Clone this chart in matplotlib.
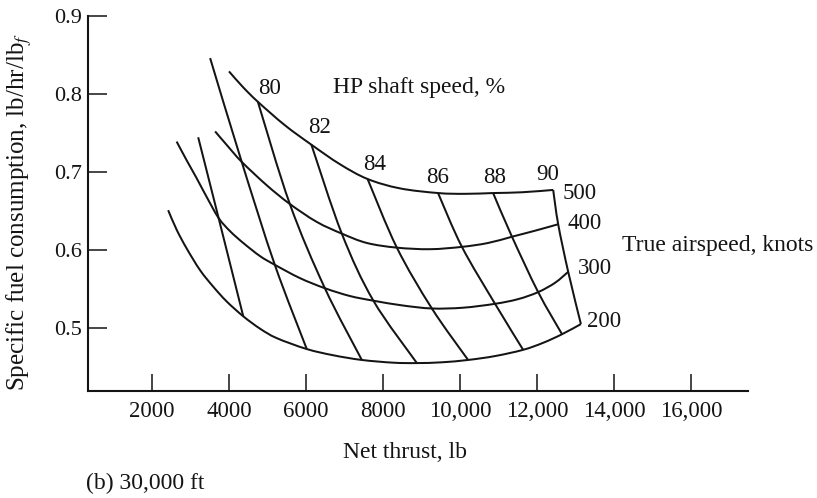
import matplotlib
matplotlib.use("Agg")
import matplotlib.pyplot as plt
from matplotlib.path import Path
from matplotlib.patches import PathPatch

# Constant true-airspeed curves (knots): net thrust (lb) vs SFC (lb/hr/lbf)
airspeeds_kt = [200, 300, 400, 500]

tas200_thrust = [2420, 2640, 2900, 3250, 3590, 3940, 4370, 4810, 5240, 6020, 6710,
                 7450, 8270, 8880, 9530, 10210, 10910, 11640, 12160, 12650, 13140]
tas200_sfc = [0.651, 0.626, 0.602, 0.574, 0.553, 0.534, 0.515, 0.499, 0.487, 0.473, 0.465,
              0.459, 0.4555, 0.455, 0.456, 0.459, 0.464, 0.472, 0.481, 0.492, 0.505]

tas300_thrust = [2640, 2900, 3160, 3420, 3730, 4030, 4370, 4810, 5190, 5840, 6490,
                 7140, 7750, 8490, 9270, 10080, 10910, 11510, 12030, 12470, 12810]
tas300_sfc = [0.739, 0.715, 0.692, 0.668, 0.641, 0.624, 0.609, 0.592, 0.581, 0.564, 0.551,
              0.541, 0.535, 0.529, 0.525, 0.526, 0.531, 0.537, 0.546, 0.558, 0.572]

tas400_thrust = [3640, 3970, 4330, 4980, 5580, 6280, 6930, 7580, 8360, 9220,
                 10050, 10730, 11350, 11970, 12550]
tas400_sfc = [0.752, 0.733, 0.713, 0.683, 0.659, 0.636, 0.621, 0.609, 0.603, 0.601,
              0.604, 0.609, 0.617, 0.625, 0.633]

tas500_thrust = [4000, 4360, 4750, 5450, 6140, 6880, 7600, 8440, 9430, 10130,
                 10860, 11610, 12420]
tas500_sfc = [0.829, 0.809, 0.790, 0.760, 0.735, 0.710, 0.691, 0.679, 0.673, 0.672,
              0.673, 0.674, 0.677]

# Constant HP shaft speed lines (%), top to bottom
hp_speeds_pct = [76, 78, 80, 82, 84, 86, 88, 90]
hp76_thrust = [3200, 3730, 4370]
hp76_sfc = [0.7445, 0.641, 0.515]
hp78_thrust = [3510, 4330, 5190, 6020]
hp78_sfc = [0.846, 0.713, 0.581, 0.473]
hp80_thrust = [4750, 5580, 6490, 7450]
hp80_sfc = [0.790, 0.659, 0.551, 0.459]
hp82_thrust = [6140, 6930, 7750, 8880]
hp82_sfc = [0.735, 0.621, 0.535, 0.455]
hp84_thrust = [7600, 8360, 9270, 10210]
hp84_sfc = [0.691, 0.603, 0.525, 0.459]
hp86_thrust = [9430, 10050, 10910, 11640]
hp86_sfc = [0.673, 0.604, 0.531, 0.472]
hp88_thrust = [10860, 11350, 12030, 12650]
hp88_sfc = [0.673, 0.617, 0.546, 0.492]
hp90_thrust = [12420, 12550, 12810, 13140]
hp90_sfc = [0.677, 0.633, 0.572, 0.505]

x_ticks = [2000, 4000, 6000, 8000, 10000, 12000, 14000, 16000]
x_tick_labels = ["2000", "4000", "6000", "8000", "10,000", "12,000", "14,000", "16,000"]
y_ticks = [0.5, 0.6, 0.7, 0.8, 0.9]
y_tick_labels = ["0.5", "0.6", "0.7", "0.8", "0.9"]

tas_curves = {
    200: (tas200_thrust, tas200_sfc),
    300: (tas300_thrust, tas300_sfc),
    400: (tas400_thrust, tas400_sfc),
    500: (tas500_thrust, tas500_sfc),
}
hp_lines = {
    76: (hp76_thrust, hp76_sfc),
    78: (hp78_thrust, hp78_sfc),
    80: (hp80_thrust, hp80_sfc),
    82: (hp82_thrust, hp82_sfc),
    84: (hp84_thrust, hp84_sfc),
    86: (hp86_thrust, hp86_sfc),
    88: (hp88_thrust, hp88_sfc),
    90: (hp90_thrust, hp90_sfc),
}

plt.rcParams["font.family"] = ["Liberation Serif", "DejaVu Serif"]
plt.rcParams["mathtext.fontset"] = "stix"

W, H = 817, 498
fig = plt.figure(figsize=(W / 100, H / 100), dpi=100)
ink = "#141414"

# axes placed so the left spine sits at x=88 px and the bottom spine at y=391 px
ax = fig.add_axes([88 / W, 1 - 391 / H, (748 - 88) / W, (391 - 16) / H])
ax.set_xlim(338, 17480)
ax.set_ylim(0.4192, 0.9)


def smooth_path(xs, ys):
    """Cubic Bezier path passing through every (x, y) point (Catmull-Rom tangents)."""
    pts = list(zip(xs, ys))
    n = len(pts)
    verts = [pts[0]]
    codes = [Path.MOVETO]
    for i in range(n - 1):
        p0 = pts[i - 1] if i > 0 else pts[i]
        p1 = pts[i]
        p2 = pts[i + 1]
        p3 = pts[i + 2] if i + 2 < n else pts[i + 1]
        c1 = (p1[0] + (p2[0] - p0[0]) / 6, p1[1] + (p2[1] - p0[1]) / 6)
        c2 = (p2[0] - (p3[0] - p1[0]) / 6, p2[1] - (p3[1] - p1[1]) / 6)
        verts += [c1, c2, p2]
        codes += [Path.CURVE4] * 3
    return Path(verts, codes)


def draw_curve(xs, ys):
    ax.add_patch(PathPatch(smooth_path(xs, ys), fill=False, edgecolor=ink,
                           lw=1.45, joinstyle="round", capstyle="butt"))


for kt in airspeeds_kt:
    draw_curve(*tas_curves[kt])
for pct in hp_speeds_pct:
    draw_curve(*hp_lines[pct])

# shaft-speed labels above the 500 kt curve (the 76 and 78 lines are unlabeled)
px2pt = 0.72
hp_label_offsets = {80: (12, 13), 82: (8, 17), 84: (7, 15), 86: (0, 16), 88: (2, 16), 90: (-5, 15)}
for pct, (dx, dy) in hp_label_offsets.items():
    t, s = hp_lines[pct]
    ax.annotate(str(pct), (t[0], s[0]), xytext=(dx * px2pt, dy * px2pt),
                textcoords="offset points", ha="center", va="center",
                fontsize=16.5, color=ink)

# airspeed labels at the right end of each curve
tas_label_offsets = {500: (26, -4), 400: (26, 1), 300: (27, 3), 200: (23, 3)}
for kt, (dx, dy) in tas_label_offsets.items():
    t, s = tas_curves[kt]
    ax.annotate(str(kt), (t[-1], s[-1]), xytext=(dx * px2pt, dy * px2pt),
                textcoords="offset points", ha="center", va="center",
                fontsize=16.5, color=ink)

for side in ("top", "right"):
    ax.spines[side].set_visible(False)
for side in ("left", "bottom"):
    ax.spines[side].set_linewidth(1.5)
    ax.spines[side].set_color(ink)

ax.set_xticks(x_ticks)
ax.set_xticklabels(x_tick_labels)
ax.set_yticks(y_ticks)
ax.set_yticklabels(y_tick_labels)
ax.tick_params(axis="x", direction="in", length=12, width=1.1, pad=7,
               labelsize=16.5, colors=ink)
ax.tick_params(axis="y", direction="in", length=13.5, width=1.1, pad=4,
               labelsize=16, colors=ink)


def fx(px):
    return px / W


def fy(py):
    return 1 - py / H


fig.text(fx(333), fy(87), "HP shaft speed, %", fontsize=17, color=ink,
         ha="left", va="center")
fig.text(fx(622), fy(246), "True airspeed, knots", fontsize=17, color=ink,
         ha="left", va="center")
fig.text(fx(405), fy(452), "Net thrust, lb", fontsize=17, color=ink,
         ha="center", va="center")
fig.text(fx(19), fy(212), r"Specific fuel consumption, lb/hr/lb$_f$", fontsize=18,
         color=ink, ha="center", va="center", rotation=90)
fig.text(fx(86), fy(483), "(b) 30,000 ft", fontsize=17, color=ink,
         ha="left", va="center")

fig.savefig("out.png", dpi=100)
